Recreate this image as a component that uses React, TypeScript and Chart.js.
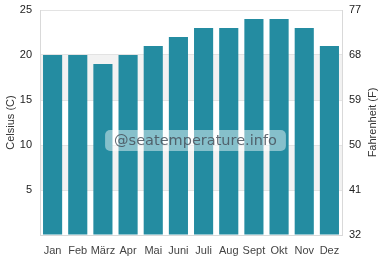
import React, { useEffect, useRef } from "react";
import { Chart, registerables } from "chart.js";

Chart.register(...registerables);

const months = ["Jan", "Feb", "März", "Apr", "Mai", "Juni", "Juli", "Aug", "Sept", "Okt", "Nov", "Dez"];
const celsius = [20, 20, 19, 20, 21, 22, 23, 23, 24, 24, 23, 21];
const celsiusRange = [0, 25];
const fahrenheitRange = [32, 77];
const celsiusStep = 5;
const fahrenheitStep = 9;
const shadedBands = [[5, 10], [15, 20]];
const watermark = "@seatemperature.info";
const leftTitle = "Celsius (C)";
const rightTitle = "Fahrenheit (F)";

const BAR = "#248ca1";
const FONT = "'Liberation Sans', Arial, sans-serif";

export default function App() {
  const ref = useRef<HTMLCanvasElement | null>(null);

  useEffect(() => {
    if (!ref.current) return;

    const decor = {
      id: "decor",
      beforeDraw(chart: any) {
        const { ctx, chartArea } = chart;
        const y = chart.scales.y;
        ctx.save();
        ctx.fillStyle = "#f2f2f2";
        for (const [a, b] of shadedBands) {
          const top = y.getPixelForValue(b);
          const bot = y.getPixelForValue(a);
          ctx.fillRect(chartArea.left, top, chartArea.right - chartArea.left, bot - top);
        }
        ctx.restore();
      },
      afterDraw(chart: any) {
        const { ctx, chartArea } = chart;
        ctx.save();
        ctx.translate(373, (chartArea.top + chartArea.bottom) / 2);
        ctx.rotate(-Math.PI / 2);
        ctx.font = `11px ${FONT}`;
        ctx.fillStyle = "#333";
        ctx.textAlign = "center";
        ctx.textBaseline = "middle";
        ctx.fillText(rightTitle, 0, 0);
        ctx.restore();

        ctx.save();
        ctx.font = "14.5px 'DejaVu Sans', sans-serif";
        const w = ctx.measureText(watermark).width;
        const cx = 195.5;
        const cy = 140.5;
        const rw = w + 18;
        const rh = 21;
        ctx.fillStyle = "rgba(255,255,255,0.45)";
        ctx.beginPath();
        (ctx as any).roundRect(cx - rw / 2, cy - rh / 2, rw, rh, 5);
        ctx.fill();
        ctx.fillStyle = "rgba(70,80,90,0.85)";
        ctx.textAlign = "center";
        ctx.textBaseline = "middle";
        ctx.fillText(watermark, cx, cy + 0.5);
        ctx.restore();
      },
    };

    const fitVertical = (scale: any) => {
      scale.width = 40;
      scale.paddingTop = 0;
      scale.paddingBottom = 0;
    };

    const chart = new Chart(ref.current, {
      type: "bar",
      data: {
        labels: months,
        datasets: [
          {
            data: celsius,
            backgroundColor: BAR,
            borderWidth: 0,
            categoryPercentage: 1,
            barPercentage: 0.76,
            yAxisID: "y",
          },
        ],
      },
      options: {
        animation: false,
        responsive: true,
        maintainAspectRatio: false,
        layout: { padding: { top: 10, left: 0, right: 0, bottom: 0 } },
        plugins: {
          legend: { display: false },
          tooltip: { enabled: false },
        },
        scales: {
          x: {
            grid: { display: false, drawTicks: false },
            border: { display: true, color: "#d9d9d9" },
            ticks: { color: "#444", font: { family: FONT, size: 11 }, padding: 9, maxRotation: 0, autoSkip: false },
            afterFit(scale: any) {
              scale.height = 45;
              scale.paddingLeft = 0;
              scale.paddingRight = 0;
            },
          },
          y: {
            position: "left",
            min: celsiusRange[0],
            max: celsiusRange[1],
            grid: { color: "#e3e3e3", drawTicks: false },
            border: { display: true, color: "#d9d9d9" },
            ticks: {
              stepSize: celsiusStep,
              color: "#222",
              font: { family: FONT, size: 11 },
              padding: 8,
              callback: (v: any) => (v === 0 ? "" : v),
            },
            title: {
              display: true,
              text: leftTitle,
              color: "#333",
              font: { family: FONT, size: 11 },
              padding: { top: 4, bottom: 0 },
            },
            afterFit: fitVertical,
          },
          y1: {
            position: "right",
            min: fahrenheitRange[0],
            max: fahrenheitRange[1],
            grid: { display: false, drawTicks: false },
            border: { display: true, color: "#d9d9d9" },
            ticks: {
              stepSize: fahrenheitStep,
              color: "#222",
              font: { family: FONT, size: 11 },
              padding: 7,
            },
            afterFit: fitVertical,
          },
        },
      },
      plugins: [decor],
    } as any);

    return () => chart.destroy();
  }, []);

  return (
    <div style={{ position: "absolute", left: 0, top: 0, width: 382, height: 280, background: "#fff" }}>
      <canvas ref={ref} />
    </div>
  );
}
